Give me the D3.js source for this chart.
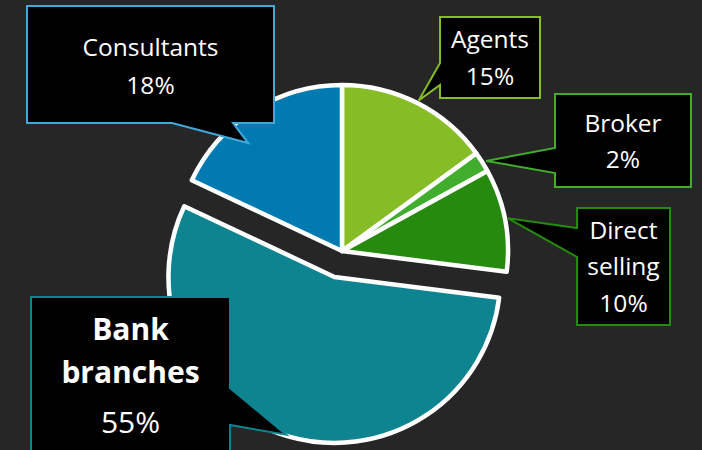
<!DOCTYPE html>
<html>
<head>
<meta charset="utf-8">
<script src="https://cdn.jsdelivr.net/npm/d3@7"></script>
<style>
  html, body { margin: 0; padding: 0; background: #262626; }
  svg { display: block; }
  text { font-family: "Open Sans", sans-serif; fill: #ffffff; }
</style>
</head>
<body>
<div id="chart"></div>
<script>
////////////////////////////////////////////////////////////////////////
// Data

let labels = ["Agents", "Broker", "Direct selling", "Bank branches", "Consultants"];
let shares = [15, 2, 10, 55, 18];
let sliceColors = ["#86bc25", "#41ad2d", "#268a0f", "#0e8490", "#007ab0"];
let borderColors = ["#86bc25", "#41ad2d", "#268a0f", "#0e8490", "#41a8dc"];
// text lines shown in each callout
let labelLines = [
  ["Agents", "15%"],
  ["Broker", "2%"],
  ["Direct", "selling", "10%"],
  ["Bank", "branches", "55%"],
  ["Consultants", "18%"]
];

////////////////////////////////////////////////////////////////////////
// Layout

let width = 702;
let height = 450;
let cx = 342, cy = 251;
let radius = 166;
let explodeIdx = 3;
let explodeDist = 27;

// callout boxes: box = [x0, y0, x1, y1], side the pointer leaves from,
// base = the two ends of the pointer along that side,
// tipShift / tipR = where the pointer lands relative to slice middle
let callouts = [
  { box: [440, 17, 540, 98], side: "left", base: [63, 85], tipShift: 0, tipR: 169,
    lineY: [48, 85], size: 24.5, bold: [] },
  { box: [555, 94, 691, 187], side: "left", base: [148, 173], tipShift: 0.4, tipR: 170,
    lineY: [132, 168], size: 24.5, bold: [] },
  { box: [577, 208, 670, 325], side: "left", base: [228, 257], tipShift: -0.4, tipR: 169,
    lineY: [239, 275, 312], size: 24.5, bold: [] },
  { box: [31, 297, 230, 470], side: "right", base: [388, 425], tipShift: 0.8, tipR: 165,
    lineY: [340, 383, 433], size: 30, bold: [0, 1] },
  { box: [27, 6, 274, 123], side: "bottom", base: [172, 233], tipShift: -8.6, tipR: 143,
    lineY: [56, 94], size: 24.5, bold: [] }
];

let svg = d3.select("#chart")
  .append("svg")
  .attr("width", width).attr("height", height);

svg.append("rect")
  .attr("width", width).attr("height", height)
  .attr("fill", "#262626");

let pie = d3.pie().sort(null).value(function(d) { return d; });
let arcs = pie(shares);

let arc = d3.arc().innerRadius(0).outerRadius(radius);

function offsetFor(i) {
  if (i !== explodeIdx) return [0, 0];
  let mid = (arcs[i].startAngle + arcs[i].endAngle) / 2;
  return [Math.sin(mid) * explodeDist, -Math.cos(mid) * explodeDist];
}

// slices
svg.append("g")
  .selectAll(".slice")
  .data(arcs)
  .enter()
  .append("path")
  .attr("class", "slice")
  .attr("transform", function(d, i) {
    let o = offsetFor(i);
    return "translate(" + (cx + o[0]) + "," + (cy + o[1]) + ")";
  })
  .attr("d", arc)
  .attr("fill", function(d, i) { return sliceColors[i]; })
  .attr("stroke", "#ffffff")
  .attr("stroke-width", 4.5)
  .attr("stroke-linejoin", "round");

// pointer tip for a callout, taken from the slice geometry
function tipFor(i) {
  let c = callouts[i];
  let o = offsetFor(i);
  let mid = (arcs[i].startAngle + arcs[i].endAngle) / 2 + c.tipShift * Math.PI / 180;
  return [cx + o[0] + Math.sin(mid) * c.tipR, cy + o[1] - Math.cos(mid) * c.tipR];
}

function calloutPath(i) {
  let c = callouts[i];
  let x0 = c.box[0], y0 = c.box[1], x1 = c.box[2], y1 = c.box[3];
  let t = tipFor(i);
  let p = d3.path();
  if (c.side === "left") {
    p.moveTo(x0, y0); p.lineTo(x1, y0); p.lineTo(x1, y1); p.lineTo(x0, y1);
    p.lineTo(x0, c.base[1]); p.lineTo(t[0], t[1]); p.lineTo(x0, c.base[0]);
  } else if (c.side === "right") {
    p.moveTo(x0, y0); p.lineTo(x1, y0); p.lineTo(x1, c.base[0]);
    p.lineTo(t[0], t[1]); p.lineTo(x1, c.base[1]); p.lineTo(x1, y1); p.lineTo(x0, y1);
  } else {
    p.moveTo(x0, y0); p.lineTo(x1, y0); p.lineTo(x1, y1); p.lineTo(c.base[1], y1);
    p.lineTo(t[0], t[1]); p.lineTo(c.base[0], y1); p.lineTo(x0, y1);
  }
  p.closePath();
  return p.toString();
}

let labelG = svg.append("g")
  .selectAll(".callout")
  .data(labels)
  .enter()
  .append("g")
  .attr("class", "callout");

labelG.append("path")
  .attr("d", function(d, i) { return calloutPath(i); })
  .attr("fill", "#000000")
  .attr("stroke", function(d, i) { return borderColors[i]; })
  .attr("stroke-width", 2);

labelG.each(function(d, i) {
  let c = callouts[i];
  let midX = (c.box[0] + c.box[2]) / 2;
  d3.select(this).selectAll("text")
    .data(labelLines[i])
    .enter()
    .append("text")
    .attr("x", midX)
    .attr("y", function(line, j) { return c.lineY[j]; })
    .attr("text-anchor", "middle")
    .style("font-size", c.size + "px")
    .style("font-weight", function(line, j) { return c.bold.indexOf(j) >= 0 ? "bold" : "normal"; })
    .text(function(line) { return line; });
});
</script>
</body>
</html>
